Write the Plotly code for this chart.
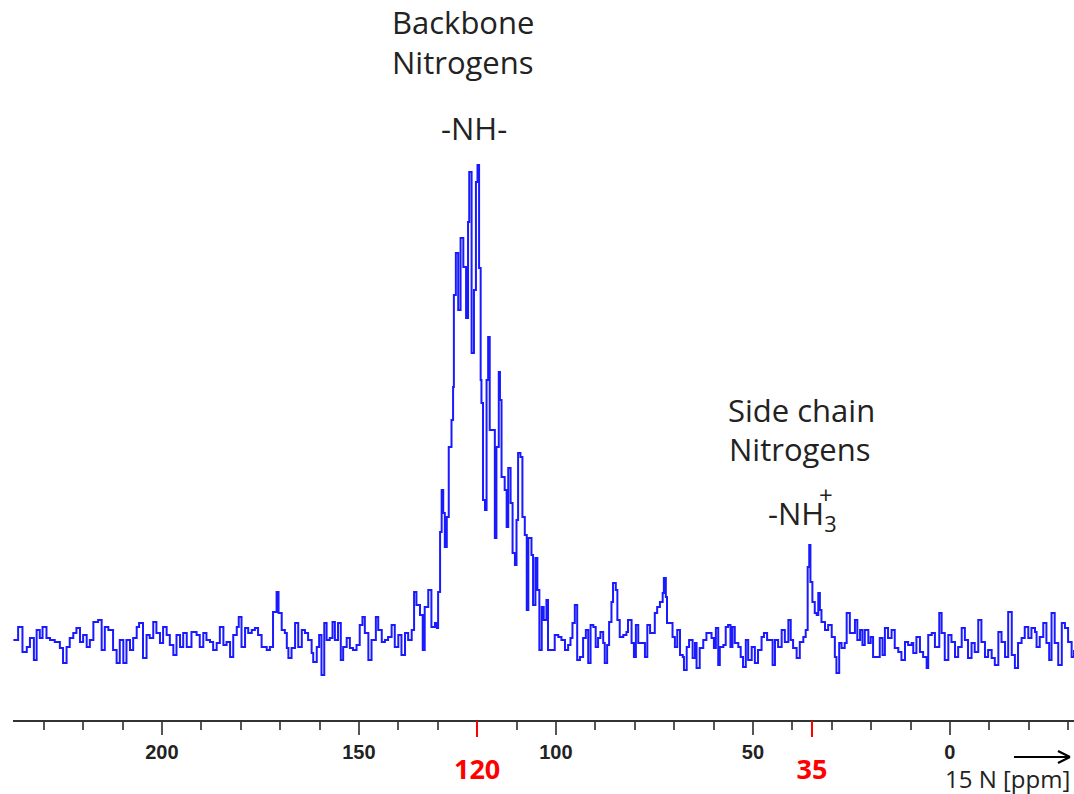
import plotly.graph_objects as go

# 15N NMR spectrum (ppm, intensity in arbitrary units)
ppm = [
    237.7, 236.5, 235.4, 234.3, 233.5, 232.5, 231.8, 231.0, 230.3, 229.3, 228.4, 227.2, 225.9, 225.1, 224.2,
    223.4, 222.5, 221.7, 220.8, 220.0, 219.1, 218.3, 217.4, 216.2, 215.3, 214.5, 213.6, 212.4, 211.5, 210.7,
    209.8, 209.0, 208.1, 207.3, 206.4, 205.8, 204.8, 203.9, 203.1, 202.2, 201.4, 200.5, 199.7, 198.8, 198.0,
    197.1, 196.3, 195.4, 194.6, 193.7, 192.5, 191.2, 190.4, 189.5, 188.7, 187.8, 187.0, 186.1, 185.3, 184.4,
    183.6, 182.7, 181.9, 181.0, 180.5, 179.8, 178.9, 178.1, 177.2, 176.4, 175.6, 174.7, 173.4, 172.6, 171.8,
    170.9, 170.4, 169.6, 168.8, 168.3, 167.9, 167.1, 166.2, 165.4, 164.5, 163.7, 162.9, 162.0, 161.6, 160.7,
    160.1, 159.5, 158.8, 158.2, 157.4, 156.7, 156.1, 155.3, 154.6, 154.0, 153.1, 152.3, 151.5, 150.6, 149.8,
    149.1, 148.5, 147.6, 146.8, 145.7, 145.1, 144.2, 143.4, 142.6, 141.7, 140.9, 140.0, 139.2, 138.3, 137.5,
    136.6, 136.0, 135.4, 134.5, 133.8, 133.3, 132.4, 131.6, 130.7, 130.2, 129.9, 129.4, 129.0, 128.6, 128.2,
    127.7, 127.2, 126.5, 126.1, 125.9, 125.4, 124.8, 124.2, 123.5, 122.8, 122.3, 122.0, 121.4, 120.8, 120.3,
    119.9, 119.5, 119.1, 118.9, 118.5, 118.0, 117.6, 117.2, 116.8, 116.1, 115.5, 115.1, 114.5, 114.2, 113.8,
    113.0, 112.5, 112.1, 111.5, 111.0, 110.4, 110.0, 109.6, 109.0, 108.5, 107.9, 107.4, 107.0, 106.2, 105.8,
    105.2, 104.7, 104.2, 103.6, 103.1, 102.4, 102.0, 101.1, 100.3, 99.4, 98.6, 97.7, 96.9, 96.3, 95.8,
    95.2, 94.6, 93.9, 93.1, 92.4, 91.8, 91.2, 90.5, 89.9, 89.3, 88.7, 88.0, 87.6, 87.0, 86.5,
    85.9, 85.5, 84.8, 84.4, 83.8, 82.9, 82.1, 81.7, 80.8, 80.2, 79.7, 79.1, 78.3, 77.4, 76.8,
    76.1, 75.5, 74.9, 74.3, 73.6, 72.9, 72.6, 72.1, 71.8, 71.1, 70.4, 69.8, 69.2, 68.5, 67.8,
    67.5, 66.8, 66.2, 65.3, 64.7, 64.3, 63.5, 62.6, 61.8, 60.5, 59.9, 59.4, 58.8, 58.4, 57.5,
    56.9, 56.3, 55.7, 55.2, 54.6, 53.7, 53.1, 52.5, 51.8, 51.2, 50.3, 49.5, 48.7, 47.8, 47.2,
    46.4, 45.7, 45.0, 44.4, 43.6, 42.7, 41.9, 41.0, 40.4, 39.8, 38.9, 38.1, 37.2, 36.6, 36.1,
    35.7, 35.4, 34.9, 34.3, 33.8, 33.4, 33.0, 32.6, 31.7, 30.9, 30.0, 29.2, 28.8, 28.1, 27.5,
    26.7, 26.2, 25.4, 24.7, 24.1, 23.5, 22.8, 22.2, 21.6, 20.7, 20.1, 19.5, 18.6, 17.8, 17.1,
    16.5, 15.7, 14.8, 14.0, 13.1, 12.3, 11.4, 10.6, 9.7, 9.3, 8.5, 7.6, 6.8, 5.9, 5.5,
    4.6, 3.8, 2.7, 2.1, 1.3, 0.4, -0.4, -1.3, -2.1, -3.0, -3.8, -4.6, -5.5, -6.3, -7.2,
    -8.0, -8.9, -9.7, -10.6, -11.4, -12.3, -13.1, -14.0, -14.8, -15.7, -16.5, -17.3, -18.2, -19.0, -19.9,
    -20.7, -21.6, -22.0, -22.8, -23.7, -24.5, -25.2, -25.8, -26.6, -27.5, -28.4, -29.2, -30.0, -30.9, -31.5,
]
intensity = [
    20, 33, 8, 13, 22, 0, 30, 22, 33, 22, 20, 18, 12, -3, 13,
    22, 27, 32, 18, 25, 13, 20, 38, 40, 10, 33, 30, 10, -3, 20,
    -3, 20, 10, 22, 33, 37, 2, 25, 22, 38, 27, 17, 33, 25, 15,
    5, 25, 13, 27, 13, 28, 25, 13, 27, 20, 18, 10, 17, 33, 15,
    18, 3, 25, 33, 43, 13, 32, 27, 30, 32, 25, 13, 10, 13, 48,
    68, 47, 30, 27, 12, 2, 12, 37, 13, 30, 27, 20, 7, -2, 13,
    25, -15, 37, 20, 22, 38, 20, 37, 0, 13, 22, 12, 10, 15, 35,
    43, 27, 0, 20, 43, 30, 18, 20, 23, 35, 13, 25, 5, 27, 20,
    30, 68, 55, 45, 10, 53, 70, 33, 37, 32, 68, 128, 170, 147, 113,
    143, 213, 240, 273, 365, 407, 350, 422, 393, 342, 438, 488, 307, 370, 478,
    495, 392, 280, 257, 160, 150, 280, 323, 230, 230, 122, 213, 288, 260, 183,
    170, 133, 192, 157, 107, 95, 140, 207, 203, 143, 125, 50, 122, 105, 55,
    102, 70, 10, 53, 40, 60, 10, 10, 25, 23, 20, 10, 15, 22, 37,
    55, 0, 3, 22, 30, -3, 35, 33, 13, 22, 28, 17, -3, 15, 38,
    58, 77, 70, 40, 23, 25, 28, 40, 17, 3, 35, 17, 17, 3, 35,
    27, 27, 47, 53, 58, 67, 82, 63, 37, 37, 23, 13, 30, 5, 3,
    -10, 13, 20, 2, 17, -8, 12, 20, 27, 22, 12, 32, -5, 13, 15,
    33, 35, 13, 33, 17, 13, 3, -7, 20, 0, 13, -3, 10, 23, 27,
    20, 20, -5, 20, 13, 30, 18, 40, 20, 12, 2, 18, 23, 30, 93,
    115, 78, 58, 47, 45, 67, 50, 38, 30, 35, 23, 3, -13, 17, 12,
    17, 47, 27, 27, 40, 20, 30, 15, 30, 17, 23, 3, 3, 22, 5,
    32, 22, 30, 12, 8, 0, 18, 15, 17, 7, 23, 8, 3, -8, 25,
    27, 13, 47, 27, 0, 25, 18, 3, 13, 32, 20, 2, 17, 8, 40,
    18, 3, 10, 2, -5, 28, 18, 3, 48, 5, -8, 17, 22, 33, 22,
    32, 28, 13, 23, 37, 17, 0, 47, 17, -5, 37, 32, 18, 3, 10,
]

red_ticks = [120, 35]
red_labels = ["120", "35"]

fig = go.Figure()
fig.add_trace(go.Scatter(x=ppm, y=intensity, mode='lines',
                         line=dict(color='#1a1aff', width=2, shape='hv'),
                         showlegend=False, hoverinfo='skip'))
# invisible trace to carry the red axis
fig.add_trace(go.Scatter(x=[120], y=[0], xaxis='x2', mode='markers',
                         marker=dict(opacity=0), showlegend=False, hoverinfo='skip'))

xrange = [237.8, -31.5]
fig.update_layout(
    width=1074, height=794,
    margin=dict(l=13, r=0, t=0, b=74),
    paper_bgcolor='white', plot_bgcolor='white',
    xaxis=dict(range=xrange, showgrid=False, zeroline=False, automargin=False,
               showline=True, linecolor='#333', linewidth=1.5,
               ticks='outside', ticklen=13, tickwidth=2, tickcolor='#555',
               tick0=0, dtick=50,
               minor=dict(ticks='outside', ticklen=8, tickwidth=2, tickcolor='#555', tick0=0, dtick=10),
               tickfont=dict(family='Liberation Sans', size=20, color='#222', weight='bold')),
    xaxis2=dict(range=xrange, overlaying='x', side='bottom', anchor='y', automargin=False,
                showgrid=False, zeroline=False, showline=False,
                tickvals=red_ticks, ticktext=red_labels,
                ticks='outside', ticklen=16, tickwidth=2, tickcolor='red',
                ticklabelstandoff=10,
                tickfont=dict(family='Open Sans', size=27, color='red', weight='bold')),
    yaxis=dict(range=[-60, 660], visible=False, automargin=False),
)

txt = dict(family='Open Sans', size=31, color='#222')
labels = [
    (123.6, 638, "Backbone"),
    (123.6, 598, "Nitrogens"),
    (120.8, 532, "-NH-"),
    (37.6, 250, "Side chain"),
    (38.0, 211, "Nitrogens"),
    (37.4, 145, "-NH<sub>3</sub>"),
]
for x, y, t in labels:
    fig.add_annotation(x=x, y=y, text=t, showarrow=False, font=txt, xanchor='center', yanchor='middle')
fig.add_annotation(x=31.4, y=166, text="+", showarrow=False, font=dict(family='Open Sans', size=24, color='#222'))

# axis title with arrow, bottom right
fig.add_annotation(xref='paper', yref='paper', x=0.998, y=-0.0806, text="15 N [ppm]", showarrow=False,
                   xanchor='right', yanchor='middle', font=dict(family='Open Sans', size=24, color='#222'))
for x0, y0 in [(-56, 0), (-12, 6), (-12, -6)]:
    fig.add_shape(type='line', xref='paper', yref='paper', xsizemode='pixel', ysizemode='pixel',
                  xanchor=0.9962, yanchor=-0.0514, x0=x0, y0=y0, x1=0, y1=0,
                  line=dict(color='black', width=2))

# drop the page's default body margin so the figure sits at the window corner
fig.write_html("out.html", config={'displayModeBar': False},
               post_script="document.body.style.margin='0';")
